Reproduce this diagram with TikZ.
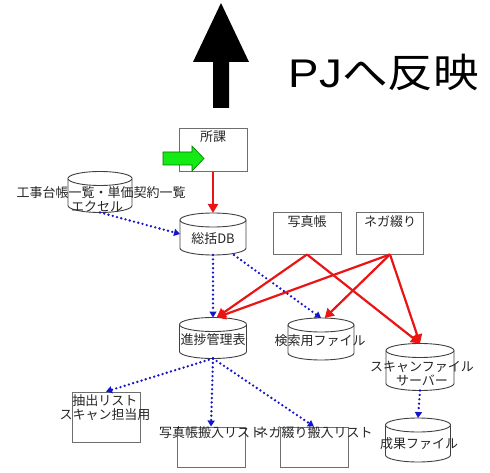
\documentclass[tikz,border=0pt]{standalone}
\usepackage{fontspec}
\setmainfont{Noto Sans CJK JP}
\newfontfamily\pjfont{Liberation Sans}
\usetikzlibrary{arrows.meta}
\definecolor{redline}{RGB}{235,20,20}
\definecolor{blueline}{RGB}{20,20,200}
\definecolor{boxline}{RGB}{110,110,110}
\definecolor{arrgreen}{RGB}{20,235,20}
\newcommand\mycyl[5]{%
  \node[minimum width=#4pt, minimum height=#5pt, inner sep=0pt, outer sep=0pt] (#1) at (#2,#3) {};
  \filldraw[cylline] ({#2-#4/2},{#3-#5/2+7}) -- ({#2-#4/2},{#3+#5/2-7})
    arc[start angle=180, end angle=0, x radius={#4/2}, y radius=7]
    -- ({#2+#4/2},{#3-#5/2+7})
    arc[start angle=0, end angle=-180, x radius={#4/2}, y radius=7] -- cycle;
  \draw[cylline] ({#2-#4/2},{#3-#5/2+7}) arc[start angle=180, end angle=0, x radius={#4/2}, y radius=7];
}
\begin{document}
\begin{tikzpicture}[x=1pt,y=-1pt,
  small/.style={font=\fontsize{13}{14}\selectfont, text=black!85, inner sep=0pt},
  boxnode/.style={draw=boxline, line width=0.9pt, fill=white, rectangle, inner sep=0pt},
  cylline/.style={draw=black!75, line width=0.9pt, fill=white},
  redarr/.style={draw=redline, line width=2.2pt, -{Triangle[length=9pt,width=10pt]}},
  dotarr/.style={draw=blueline, line width=2.6pt, dash pattern=on 0pt off 4.4pt, line cap=round, -{Triangle[length=6pt,width=7pt]}}
]
\useasboundingbox (0,0) rectangle (490,473);
% big black arrow
\fill[black] (213,108) -- (213,62) -- (193,62) -- (221,3) -- (249,62) -- (229,62) -- (229,108) -- cycle;
\node[font=\fontsize{40}{42}\selectfont, inner sep=0pt] (pj) at (384,72) {\scalebox{1.14}[1]{{\pjfont PJ}へ反映}};

% nodes
\node[boxnode, minimum width=68pt, minimum height=43pt] (shoka) at (213,150) {};
\node[small, anchor=north] (shokat) at (213,131) {所課};
\fill[arrgreen, draw=green!45!black, line width=0.6pt] (163,152) -- (192,152) -- (192,146) -- (204,158.5) -- (192,171) -- (192,165) -- (163,165) -- cycle;
\mycyl{sokatsu}{213}{234}{66}{42}
\node[small] (sokatsut) at (213,239) {総括DB};
\mycyl{koji}{100}{192}{64}{41}
\node[small] (kojit) at (101,193) {工事台帳一覧・単価契約一覧};
\node[small] (kojit2) at (97,207) {エクセル};
\node[boxnode, minimum width=68pt, minimum height=42pt] (shashin) at (307,233) {};
\node[small, anchor=north] (shashint) at (307,215) {写真帳};
\node[boxnode, minimum width=67pt, minimum height=42pt] (nega) at (390,233) {};
\node[small, anchor=north] (negat) at (390,215) {ネガ綴り};
\mycyl{shinchoku}{213}{338}{67}{41}
\node[small] (shinchokut) at (213,340) {進捗管理表};
\mycyl{kensaku}{321}{339}{66}{42}
\node[small] (kensakut) at (320,341) {検索用ファイル};
\mycyl{scan}{420}{367}{68}{47}
\node[small, align=center] (scant) at (422,374) {スキャンファイル\\サーバー};
\mycyl{seika}{418}{440}{65}{44}
\node[small] (seikat) at (419,444) {成果ファイル};
\node[boxnode, minimum width=68pt, minimum height=50pt] (chushutsu) at (106,417) {};
\node[small, align=center] (chushutsut) at (105,408) {抽出リスト\\スキャン担当用};
\node[boxnode, minimum width=68pt, minimum height=40pt] (shlist) at (211,447) {};
\node[small] (shlistt) at (211,433) {写真帳搬入リスト};
\node[boxnode, minimum width=68pt, minimum height=40pt] (nglist) at (314,447) {};
\node[small] (nglistt) at (314,433) {ネガ綴り搬入リスト};

% connectors
\draw[redarr] (shoka.south) -- (sokatsu.north);
\draw[dotarr] (koji.south) -- (sokatsu.west);
\draw[dotarr] (sokatsu.south) -- (shinchoku.north);
\draw[dotarr] (sokatsu.-45) -- (kensaku.north);
\draw[redarr] (shashin.south) -- (shinchoku.80);
\draw[redarr] (shashin.south) -- (scan.north);
\draw[redarr] (nega.south) -- (shinchoku.80);
\draw[redarr] (nega.south) -- (kensaku.80);
\draw[redarr] (nega.south) -- (scan.north);
\draw[dotarr] (shinchoku.south) -- (chushutsu.north);
\draw[dotarr] (shinchoku.south) -- (shlist.north);
\draw[dotarr] (shinchoku.south) -- (nglist.north);
\draw[dotarr] (scan.south) -- (seika.north);
\end{tikzpicture}
\end{document}
